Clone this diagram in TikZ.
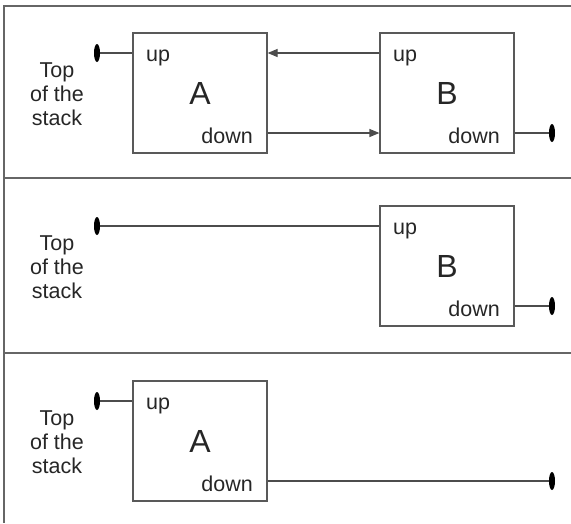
\documentclass[tikz,border=0pt]{standalone}
\usepackage{fontspec}
\setmainfont{Liberation Sans}
\usetikzlibrary{arrows.meta,shapes.geometric}
\newcommand{\TopStack}{Top\\of the\\stack}
\newcommand{\SmallTxt}{\fontsize{21.5}{24}\selectfont}

\begin{document}
\begin{tikzpicture}[x=1pt,y=-1pt,
  frame/.style={draw=black!60,line width=1.6pt},
  blk/.style={draw=black!65,line width=1.2pt,minimum width=134pt,minimum height=120pt,inner sep=0pt,font=\fontsize{32}{38}\selectfont,text=black!85},
  port/.style={font=\SmallTxt,text=black!85,inner sep=0pt},
  stacklbl/.style={align=center,font=\SmallTxt,text=black!85,inner sep=0pt},
  pin/.style={ellipse,fill=black,minimum width=6pt,minimum height=18pt,inner sep=0pt},
  wire/.style={draw=black!70,line width=1.2pt},
  >={Triangle[length=10pt,width=8pt]}]
\useasboundingbox (0,0) rectangle (571,523);

% frame of the three panels
\draw[frame] (571,6) -- (4,6) -- (4,523);
\draw[frame] (4,178) -- (571,178);
\draw[frame] (4,353) -- (571,353);

% panel 1
\node[stacklbl] (lbl1) at (57,94) {\TopStack};
\node[blk] (A1) at (200,93) {A};
\node[blk] (B1) at (447,93) {B};
\node[port,anchor=base west] (A1-up) at (146,61) {up};
\node[port,anchor=base east] (A1-down) at (253,143) {down};
\node[port,anchor=base west] (B1-up) at (393,61) {up};
\node[port,anchor=base east] (B1-down) at (500,143) {down};
\node[pin] (top1) at (97,53) {};
\node[pin] (end1) at (552,133) {};

\draw[wire] (top1) -- (top1 -| A1.west);
\draw[wire,->] (top1 -| B1.west) -- (top1 -| A1.east);
\draw[wire,->] (end1 -| A1.east) -- (end1 -| B1.west);
\draw[wire] (end1 -| B1.east) -- (end1);

% panel 2
\node[stacklbl] (lbl2) at (57,267) {\TopStack};
\node[blk] (B2) at (447,266) {B};
\node[port,anchor=base west] (B2-up) at (393,234) {up};
\node[port,anchor=base east] (B2-down) at (500,316) {down};
\node[pin] (top2) at (97,226) {};
\node[pin] (end2) at (552,306) {};

\draw[wire] (top2) -- (top2 -| B2.west);
\draw[wire] (end2 -| B2.east) -- (end2);

% panel 3
\node[stacklbl] (lbl3) at (57,442) {\TopStack};
\node[blk] (A3) at (200,441) {A};
\node[port,anchor=base west] (A3-up) at (146,409) {up};
\node[port,anchor=base east] (A3-down) at (253,491) {down};
\node[pin] (top3) at (97,401) {};
\node[pin] (end3) at (552,481) {};

\draw[wire] (top3) -- (top3 -| A3.west);
\draw[wire] (end3 -| A3.east) -- (end3);
\end{tikzpicture}
\end{document}
